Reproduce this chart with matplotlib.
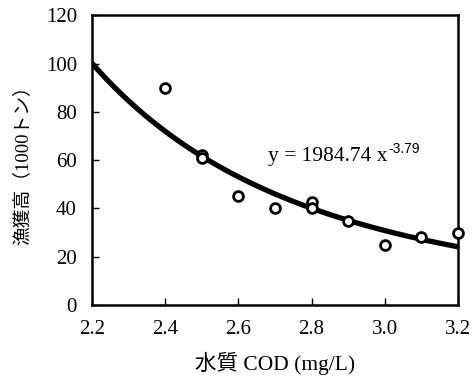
import numpy as np
import matplotlib
matplotlib.use('Agg')
import matplotlib.pyplot as plt

# data
cod = [2.4, 2.5, 2.5, 2.6, 2.7, 2.8, 2.8, 2.9, 3.0, 3.1, 3.2]
catch = [90, 62, 61, 45, 40, 42.5, 40, 35, 25, 28, 30]

# fitted power curve y = a * x^b
fit_a = 1984.74
fit_b = -3.79

xticks = [2.2, 2.4, 2.6, 2.8, 3.0, 3.2]
yticks = [0, 20, 40, 60, 80, 100, 120]

fonts = ['Liberation Serif', 'Noto Sans CJK JP']

fig = plt.figure(figsize=(4.73, 3.8), dpi=100)
ax = fig.add_axes([0.195, 0.197, 0.773, 0.763])

xs = np.linspace(2.2, 3.2, 200)
ax.plot(xs, fit_a * xs ** fit_b, color='black', lw=3.8, zorder=2)
ax.scatter(cod, catch, s=50, facecolors='white', edgecolors='black',
           linewidths=2, zorder=3, clip_on=False)

ax.set_xlim(2.2, 3.2)
ax.set_ylim(0, 120)
ax.set_xticks(xticks)
ax.set_xticklabels(['%.1f' % v for v in xticks])
ax.set_yticks(yticks)
ax.tick_params(direction='in', length=5, width=1, pad=11, labelsize=15)
for lab in ax.get_xticklabels() + ax.get_yticklabels():
    lab.set_family(fonts)
for side in ax.spines.values():
    side.set_linewidth(1.8)

# equation label, superscript drawn as its own text next to it
eq = ax.text(2.68, 61.5, 'y = 1984.74 x', fontsize=15.5, family=fonts,
             va='center', ha='left')
ax.annotate('-3.79', xy=(1.0, 0.92), xycoords=eq, xytext=(1, 0),
            textcoords='offset points', fontsize=10, family='Liberation Sans',
            va='center', ha='left')

ax.set_xlabel('水質 COD (mg/L)', family=fonts, fontsize=15.5, labelpad=9)
ax.set_ylabel('漁獲高（1000トン）', family=fonts, fontsize=13.5, labelpad=10)

plt.savefig('out.png', dpi=100)
